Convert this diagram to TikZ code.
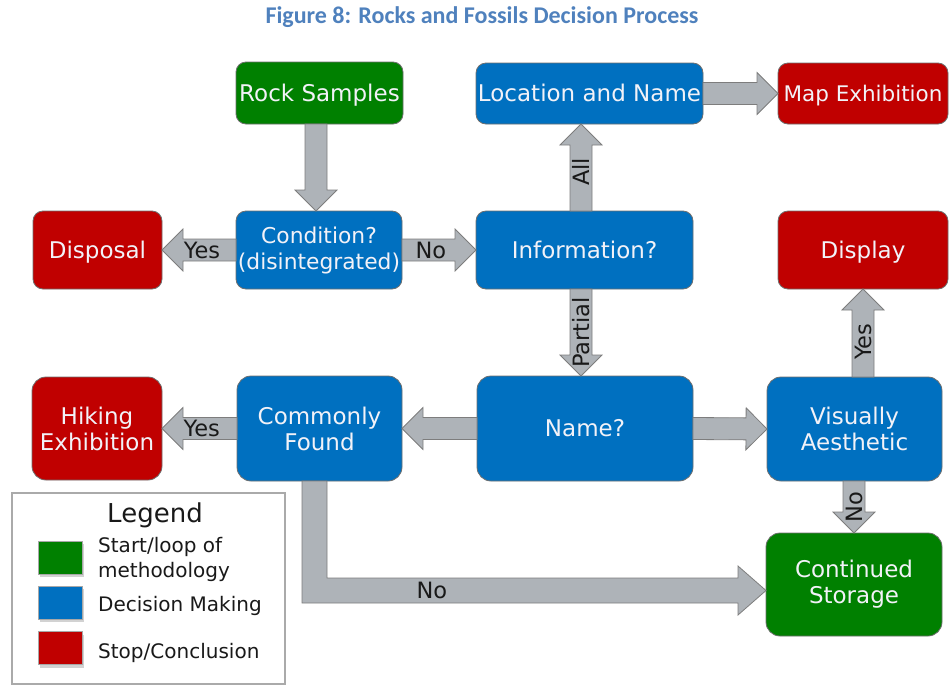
\documentclass[tikz,border=0pt]{standalone}
\usepackage{fontspec}
\setmainfont{DejaVu Sans}
\newfontfamily\titlefont{Carlito}
\usetikzlibrary{calc,shadows}

\definecolor{startgreen}{RGB}{0,128,0}
\definecolor{decblue}{RGB}{0,112,192}
\definecolor{stopred}{RGB}{192,0,0}
\definecolor{boxline}{RGB}{110,110,110}
\definecolor{boxtext}{RGB}{242,242,248}
\definecolor{arrowfill}{RGB}{174,179,184}
\definecolor{arrowline}{RGB}{125,125,125}
\definecolor{lbltext}{RGB}{25,25,25}
\definecolor{titleblue}{RGB}{79,129,189}
\definecolor{legendline}{RGB}{170,170,170}

\tikzset{
  box/.style={draw=boxline, line width=0.8pt, rounded corners=10pt, outer sep=0pt,
    inner sep=0pt, text=boxtext, align=center, font=\fontsize{23}{26}\selectfont},
  tall/.style={rounded corners=14pt},
  % struts that set the text a little below the box centre
  oneline/.style={execute at begin node={\rule[-0.24em]{0pt}{1.2em}}},
  twoline/.style={execute at begin node={\rule{0pt}{0.95em}}},
  startbox/.style={box, fill=startgreen},
  decbox/.style={box, fill=decblue},
  stopbox/.style={box, fill=stopred},
  blk/.style={fill=arrowfill, draw=arrowline, line width=0.8pt},
  lbl/.style={text=lbltext, font=\fontsize{22.5}{24}\selectfont, inner sep=0pt},
  legtext/.style={text=lbltext, font=\fontsize{20}{25}\selectfont, inner sep=0pt, align=left, anchor=west},
  swatch/.style={draw=boxline!60, line width=0.6pt, minimum width=44pt, minimum height=33pt,
    inner sep=0pt, outer sep=0pt, drop shadow={shadow xshift=2pt, shadow yshift=-3pt, fill=black!35}},
}

% block arrow between two named coordinates
\newcommand\shafthalf{11pt}
\newcommand\headhalf{21pt}
\newcommand\headlen{21pt}
\newcommand\blockarrow[2]{%
  \coordinate (ba-base) at ($(#2)!\headlen!(#1)$);
  \draw[blk] ($(#1)!\shafthalf!90:(#2)$) -- ($(ba-base)!\shafthalf!90:(#2)$)
    -- ($(ba-base)!\headhalf!90:(#2)$) -- (#2) -- ($(ba-base)!\headhalf!-90:(#2)$)
    -- ($(ba-base)!\shafthalf!-90:(#2)$) -- ($(#1)!\shafthalf!-90:(#2)$) -- cycle;}

\begin{document}
\begin{tikzpicture}[x=1pt,y=-1pt]
\useasboundingbox (0,0) rectangle (950,686);

% title
\node[font=\titlefont\bfseries\fontsize{24}{28}\selectfont, text=titleblue] (title) at (482,17)
  {Figure 8: Rocks and Fossils Decision Process};

% process boxes
\node[startbox, oneline, minimum width=167pt, minimum height=62pt] (rock) at (319.5,93) {Rock Samples};
\node[decbox, oneline, minimum width=227pt, minimum height=61pt] (loc) at (589.5,93.5) {Location and Name};
\node[stopbox, oneline, minimum width=170pt, minimum height=61pt, font=\fontsize{21.5}{26}\selectfont] (map) at (863,93.5) {Map Exhibition};
\node[stopbox, oneline, minimum width=129pt, minimum height=78pt] (disp) at (97.5,250) {Disposal};
\node[decbox, twoline, minimum width=166pt, minimum height=78pt, font=\fontsize{21.8}{26}\selectfont] (cond) at (319,250) {Condition?\\(disintegrated)};
\node[decbox, oneline, minimum width=217pt, minimum height=78pt] (info) at (584.5,250) {Information?};
\node[stopbox, oneline, minimum width=170pt, minimum height=78pt] (show) at (863,250) {Display};
\node[stopbox, tall, twoline, minimum width=130pt, minimum height=103pt] (hike) at (97,428.5) {Hiking\\Exhibition};
\node[decbox, tall, twoline, minimum width=165pt, minimum height=105pt] (common) at (319.5,428.5) {Commonly\\Found};
\node[decbox, tall, oneline, minimum width=216pt, minimum height=105pt] (name) at (585,428.5) {Name?};
\node[decbox, tall, twoline, minimum width=175pt, minimum height=104pt] (vis) at (854.5,429) {Visually\\Aesthetic};
\node[startbox, tall, twoline, minimum width=176pt, minimum height=103pt] (store) at (854,584.5) {Continued\\Storage};

% connectors
\coordinate (r1) at ([xshift=-3.5pt]rock.south);
\coordinate (r2) at (r1 |- cond.north);
\blockarrow{r1}{r2}

\blockarrow{cond.west}{disp.east}
\path (cond.west) -- (disp.east) node[lbl, pos=0.46] {Yes};

\blockarrow{cond.east}{info.west}
\path (cond.east) -- (info.west) node[lbl, pos=0.39] {No};

\coordinate (i1) at ([xshift=-3.5pt]info.north);
\coordinate (i2) at (i1 |- loc.south);
\blockarrow{i1}{i2}
\path (i1) -- (i2) node[lbl, pos=0.45, rotate=90] {All};

\coordinate (l1) at (loc.east);
\coordinate (l2) at (l1 -| map.west);
\blockarrow{l1}{l2}

\coordinate (p1) at ([xshift=-3.5pt]info.south);
\coordinate (p2) at (p1 |- name.north);
\blockarrow{p1}{p2}
\path (p1) -- (p2) node[lbl, pos=0.5, rotate=90] {Partial};

\blockarrow{name.west}{common.east}
\blockarrow{name.east}{vis.west}

\blockarrow{common.west}{hike.east}
\path (common.west) -- (hike.east) node[lbl, pos=0.47] {Yes};

\coordinate (v1) at (vis.north -| show.south);
\blockarrow{v1}{show.south}
\path (v1) -- (show.south) node[lbl, pos=0.4, rotate=90] {Yes};

\coordinate (v2) at (vis.south -| store.north);
\blockarrow{v2}{store.north}
\path (v2) -- (store.north) node[lbl, pos=0.5, rotate=90] {No};

% elbow connector to storage
\coordinate (c1) at ([xshift=-5pt]common.south);
\coordinate (c2) at ([yshift=-6pt]store.west);
\draw[blk] ($(c1)+(-12.5,0)$) |- ($(c2)+(-28,12.5)$) -- ++(0,12) -- (c2)
  -- ($(c2)+(-28,-24.5)$) -- ++(0,12) -| ($(c1)+(12.5,0)$) -- cycle;
\path (c1 |- c2) -- (c2) node[lbl, pos=0.26] {No};

% legend
\draw[legendline, line width=1.5pt] (12,493) rectangle (285,684);
\node[text=lbltext, font=\fontsize{26}{30}\selectfont, inner sep=0pt] (legtitle) at (155,515) {Legend};
\node[swatch, fill=startgreen] (sw1) at (60,557.5) {};
\node[swatch, fill=decblue] (sw2) at (60,602.5) {};
\node[swatch, fill=stopred] (sw3) at (60,648) {};
\node[legtext] (lt1) at (98,559.5) {Start/loop of\\methodology};
\node[legtext] (lt2) at (98,606) {Decision Making};
\node[legtext] (lt3) at (98,653) {Stop/Conclusion};
\end{tikzpicture}
\end{document}
